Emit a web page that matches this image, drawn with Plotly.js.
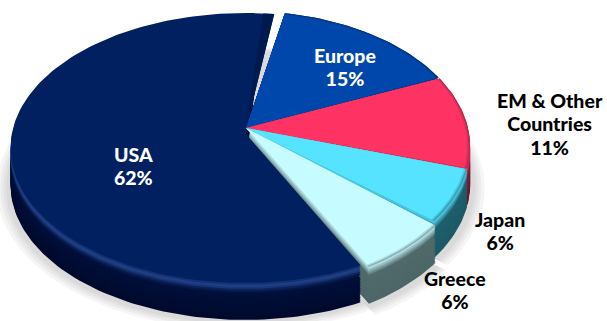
<!DOCTYPE html>
<html>
<head>
<meta charset="utf-8">
<script src="https://cdn.plot.ly/plotly-3.0.1.min.js"></script>
<style>html,body{margin:0;padding:0;background:#fff;overflow:hidden}#chart{width:607px;height:321px}</style>
</head>
<body>
<div id="chart"></div>
<script>
// Data (shares of the total, labels show them rounded)
const categories = ["Europe", "EM & Other Countries", "Japan", "Greece", "USA"];
const shares = [15.4, 11.3, 6.4, 6.3, 61.6];
const labelLines = [["Europe"], ["EM & Other", "Countries"], ["Japan"], ["Greece"], ["USA"]];
const topColors = ["#0047ab", "#ff3363", "#55e3ff", "#c6fbff", "#00205f"];
const sideColors = ["#001f5c", "#7d1c3a", "#1f5f6c", "#50696a", "#000f3a"];
const deepColors = ["#001a50", "#6a1530", "#1d5a66", "#4d6667", "#000a2c"];

// Projection of the tilted disc
const mainView = {cx: 246, cy: 128, a: 133.3, b: 222, k: 0.14, rimDy: 0};
const greeceView = {cx: 246, cy: 128, a: 133.3, b: 222, k: 0.14, rimDy: 6};
const usaView = {cx: 245, cy: 133, a: 133.3, b: 233, k: 0.111, rimDy: 0};
const views = [mainView, mainView, mainView, greeceView, usaView];
const startAngle = 11.5, seam = 0.6, usaGapStart = 1.5, usaGapEnd = 3.5, depth = 37;

function hex(c) { return [1, 3, 5].map(i => parseInt(c.substr(i, 2), 16)); }
function mix(c1, c2, t) {
  const a = hex(c1), b = hex(c2);
  return "rgb(" + a.map((v, i) => Math.round(v + (b[i] - v) * t)).join(",") + ")";
}
function project(view, angle, r) {
  const t = angle * Math.PI / 180, u = r * Math.sin(t), v = -r * Math.cos(t);
  const w = 1 - view.k * v;
  return [view.cx + view.b * u / w, view.cy + view.a * v / w + view.rimDy];
}
function wedge(view, a0, a1, r, dy, color, dx) {
  const xs = [view.cx + (dx || 0)], ys = [view.cy + dy];
  const n = Math.max(6, Math.ceil((a1 - a0) / 1.5));
  for (let i = 0; i <= n; i++) {
    const p = project(view, a0 + (a1 - a0) * i / n, r);
    xs.push(p[0] + (dx || 0)); ys.push(p[1] + dy);
  }
  xs.push(xs[0]); ys.push(ys[0]);
  return {type: "scatter", mode: "lines", x: xs, y: ys, fill: "toself", fillcolor: color,
          line: {width: 0, color: color}, hoverinfo: "skip", showlegend: false};
}

const total = shares.reduce((s, v) => s + v, 0);
const spans = [];
let acc = startAngle;
shares.forEach(v => { const e = acc + v / total * 360; spans.push([acc, e]); acc = e; });

function angles(i) {
  if (i === 4) return [spans[4][0] + usaGapStart, spans[4][1] - usaGapEnd];
  if (i === 3) return [spans[3][0] - 0.6, spans[3][1] - 1.0];
  return [spans[i][0] + (i > 0 ? seam : 0), spans[i][1]];
}
function topLayers(i) {
  const [a0, a1] = angles(i), top = topColors[i], side = sideColors[i];
  return [wedge(views[i], a0, a1, 1, 0, mix(top, side, 0.5)),
          wedge(views[i], a0, a1, 0.993, 0, mix(top, side, 0.2)),
          wedge(views[i], a0, a1, 0.986, 0, top)];
}

const traces = [];
// soft ground shadow
spans.forEach((sp, i) => {
  [1.05, 1.035, 1.022, 1.01].forEach(r => traces.push(wedge(views[i], sp[0], sp[1], r, depth + 2, "rgba(120,120,120,0.07)", i === 4 ? -2 : 3)));
});
// each slice: extruded wall, bevel, top face; back to front with USA last
spans.forEach((sp, i) => {
  const view = views[i];
  const [a0, a1] = angles(i);
  const top = topColors[i], side = sideColors[i], deep = deepColors[i];
  const stackEnd = i === 4 ? a1 - 4 : a1;
  for (let d = depth; d >= 12; d -= 1.5) traces.push(wedge(view, a0, stackEnd, 1, d, mix(side, deep, (d - 12) / (depth - 12))));
  if (i === 4) {
    [[10, .15], [8, .4], [6, .8], [4, 1.0], [2, .7]].forEach(s => traces.push(wedge(view, a0, stackEnd, 1, s[0], mix(side, "#1f4088", s[1]))));
    traces.push(wedge(view, a0, a1, 1, 0, top));
    // darker band along the cut edge next to Europe
    traces.push(wedge(view, a1 - 3, a1, 1, 0, "#001a50"));
  } else {
    for (let d = 10; d >= 2; d -= 2) traces.push(wedge(view, a0, a1, 1, d, mix(side, top, (10 - d) / 10)));
    topLayers(i).forEach(t => traces.push(t));
  }
});
// Europe and its neighbours sit on top of the USA wall near the centre
[0, 1, 2, 3].forEach(i => topLayers(i).forEach(t => traces.push(t)));

// Text labels with their share, rounded from the data: one annotation per label
const labelAnchors = [[345, 55, "#ffffff"], [550, 101, "#000000"], [500, 219, "#000000"], [455, 278, "#000000"], [133, 154, "#ffffff"]];
const fontSize = 19.5, plotlyLineEm = 1.3, tightLineEm = 1.205;
const annotations = categories.map((c, i) => {
  const lines = labelLines[i].concat([Math.round(shares[i]) + "%"]);
  return {
    x: labelAnchors[i][0], y: labelAnchors[i][1] + (lines.length - 1) * plotlyLineEm * fontSize / 2,
    xref: "x", yref: "y", showarrow: false, text: lines.join("<br>"),
    xanchor: "center", yanchor: "middle", align: "center",
    font: {family: "Lato, sans-serif", size: fontSize, weight: 900, color: labelAnchors[i][2]}
  };
});

Plotly.newPlot("chart", traces, {
  width: 607, height: 321, margin: {l: 0, r: 0, t: 0, b: 0},
  paper_bgcolor: "#ffffff", plot_bgcolor: "#ffffff", showlegend: false,
  xaxis: {range: [0, 607], visible: false, fixedrange: true},
  yaxis: {range: [321, 0], visible: false, fixedrange: true},
  annotations: annotations
}, {staticPlot: true, displayModeBar: false}).then(() => {
  // The reference sets its label lines closer than Plotly's default spacing
  document.querySelectorAll(".annotation-text tspan.line").forEach(t => {
    const lineIndex = Array.prototype.indexOf.call(t.parentNode.querySelectorAll("tspan.line"), t);
    t.setAttribute("y", parseFloat(t.getAttribute("y")) - lineIndex * (plotlyLineEm - tightLineEm) * fontSize);
  });
});
</script>
</body>
</html>
